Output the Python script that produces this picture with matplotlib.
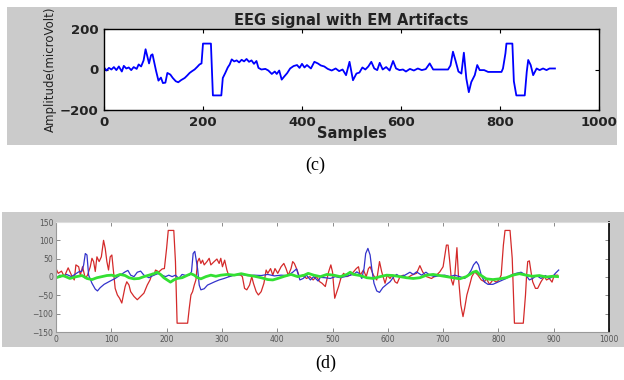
import matplotlib
matplotlib.use("Agg")
import matplotlib.pyplot as plt
from matplotlib.patches import Rectangle

# panel (c): EEG signal with EM artifacts (samples, microvolt)
eeg_x = [0, 5, 10, 15, 20, 25, 30, 36, 40, 45, 50, 55, 60, 66, 70, 75, 80, 84, 88, 91,
         95, 98, 102, 105, 110, 115, 119, 124, 128, 134, 139, 145, 150, 156, 163, 168, 173, 178, 183, 188,
         193, 197, 200, 216, 220, 237, 240, 245, 250, 254, 258, 263, 268, 273, 278, 283, 288, 293, 298, 303,
         308, 312, 318, 326, 332, 339, 345, 349, 354, 359, 364, 370, 376, 383, 390, 395, 400, 405, 410, 418,
         425, 432, 438, 445, 452, 460, 468, 475, 482, 489, 496, 503, 510, 516, 522, 528, 534, 540, 546, 552,
         557, 563, 570, 577, 584, 590, 597, 604, 610, 618, 626, 634, 642, 650, 658, 665, 695, 700, 705, 710,
         716, 722, 727, 732, 737, 742, 749, 754, 759, 768, 776, 803, 806, 811, 813, 825, 828, 833, 850, 854,
         857, 862, 867, 874, 880, 887, 894, 900, 911]
eeg_y = [10, -5, 8, 0, 12, -3, 15, -10, 18, 5, 10, -3, 12, 3, 25, 15, 45, 100, 60, 30,
         70, 75, 30, -5, -55, -40, -67, -65, -17, -25, -42, -58, -63, -52, -42, -30, -17, -8, 0, 12,
         25, 30, 128, 128, -128, -128, -42, -17, 10, 25, 50, 40, 45, 35, 48, 40, 52, 38, 45, 28,
         42, 8, 0, 3, -5, -22, -10, -22, -5, -50, -35, -18, 5, 17, 22, 8, 28, 10, 22, 5,
         38, 30, 20, 15, 3, -5, 5, -8, 0, -28, 38, -53, -20, -15, 10, 0, 15, 38, 5, -3,
         33, 0, 12, -5, 42, 5, -3, 0, -10, 3, -5, 5, -3, 2, 30, 0, 0, 20, 88, 45,
         -10, -20, 83, -45, -112, -62, -28, 22, -3, -3, -12, -12, 5, 80, 128, 128, -58, -128, -128, -12,
         47, 22, -28, 5, -3, 5, -3, 5, 5]

# panel (d): red = contaminated, blue = cleaned, green = artifact estimate
red_x = [0, 4, 10, 15, 22, 28, 33, 36, 41, 44, 48, 53, 57, 62, 65, 68, 71, 74, 78, 82,
         86, 89, 92, 95, 98, 101, 104, 107, 111, 115, 119, 122, 125, 128, 132, 135, 141, 147, 153, 159,
         165, 170, 174, 177, 180, 186, 192, 196, 200, 203, 213, 216, 219, 238, 241, 244, 247, 250, 253, 256,
         259, 262, 265, 268, 273, 277, 280, 286, 291, 295, 298, 301, 305, 309, 313, 319, 328, 334, 337, 341,
         345, 350, 354, 357, 362, 366, 371, 376, 380, 383, 388, 392, 396, 401, 407, 412, 416, 420, 425, 428,
         431, 436, 440, 446, 453, 459, 465, 471, 477, 481, 487, 493, 497, 500, 504, 508, 511, 515, 520, 526,
         532, 538, 543, 547, 550, 556, 561, 565, 568, 574, 580, 585, 589, 595, 599, 604, 608, 613, 617, 622,
         628, 634, 643, 652, 658, 663, 670, 679, 688, 694, 700, 706, 709, 712, 715, 718, 721, 725, 728, 732,
         736, 739, 743, 748, 752, 757, 763, 769, 775, 778, 784, 790, 796, 801, 805, 809, 812, 821, 825, 829,
         845, 849, 851, 853, 856, 859, 862, 867, 871, 877, 883, 887, 892, 897, 901, 907]
red_y = [23, 10, 16, 1, 25, 5, -8, 33, 28, 5, 28, -4, 5, 28, 51, 42, 15, 55, 42, 55,
         100, 78, 42, 19, 55, 60, 15, -31, -49, -58, -71, -49, -26, -13, -22, -40, -53, -62, -53, -44,
         -22, -8, 10, 5, 19, 14, 22, 23, 78, 127, 127, 42, -126, -126, -85, -49, -40, -22, -8, 42,
         51, 37, 46, 33, 42, 51, 33, 42, 49, 37, 51, 28, 46, 19, 1, 5, 7, 5, 1, -31,
         -35, -22, 1, -17, -40, -49, -40, -17, 19, 10, 23, 5, 23, 10, 28, 37, 23, 5, 23, 42,
         37, 19, 1, 5, -4, 1, -8, 1, -13, -17, -26, 14, 33, 14, -58, -40, -26, -4, 10, 1,
         5, 14, 23, 28, 5, 19, 1, 23, 28, 5, -8, 42, 14, -17, 5, -4, 5, -13, -17, 1,
         5, -4, 5, 10, 31, 14, 1, -4, 5, 14, 28, 87, 87, 42, -8, -22, 1, 80, -4, -76,
         -108, -85, -49, -22, 1, 14, 5, -8, -13, -4, -20, -8, -14, -8, 5, 87, 127, 127, 51, -126,
         -126, -49, 5, 42, 44, 14, -13, -31, -31, -13, 1, -8, -4, -14, 5, 5]

blue_x = [0, 7, 13, 19, 28, 34, 41, 47, 50, 53, 56, 59, 65, 71, 75, 80, 87, 98, 107, 116,
          125, 130, 135, 141, 147, 153, 159, 168, 177, 186, 192, 198, 204, 210, 216, 222, 228, 235, 241, 245,
          248, 251, 256, 259, 262, 268, 274, 281, 287, 295, 304, 313, 322, 335, 347, 359, 371, 383, 395, 407,
          419, 428, 435, 441, 447, 453, 460, 466, 474, 478, 487, 496, 505, 514, 523, 532, 538, 544, 548, 553,
          557, 560, 564, 568, 571, 575, 580, 585, 591, 598, 604, 611, 616, 622, 631, 640, 646, 652, 661, 669,
          676, 685, 694, 703, 712, 721, 730, 739, 745, 751, 755, 760, 764, 769, 775, 781, 790, 799, 808, 814,
          823, 832, 841, 850, 856, 862, 869, 877, 885, 892, 898, 903, 909]
blue_y = [-4, 5, 1, 7, 1, 7, 14, 16, 33, 64, 60, 5, -17, -33, -38, -29, -20, -11, -4, 5,
          14, 18, 5, 1, 13, 16, 5, -2, 5, 10, 5, 1, 5, 1, 5, -4, 7, 4, 5, 14,
          64, 70, 23, -22, -35, -32, -22, -17, -13, -8, -4, 1, 5, 7, 4, 5, 4, 7, 3, 5,
          4, 13, 22, -8, -4, 5, -8, 1, -11, -1, -2, -4, 1, -2, 1, 5, 7, 14, 10, -4,
          23, 64, 78, 60, 23, -17, -38, -42, -29, -20, -13, 1, 7, 1, 5, 13, 7, 14, 5, 13,
          5, 1, 4, 5, 1, 5, 1, -4, 5, 19, 33, 42, 33, 5, -14, -20, -20, -14, -8, -4,
          5, 10, 13, 5, -8, -4, 4, -4, 4, -4, 1, 10, 19]

green_x = [0, 13, 25, 37, 47, 56, 65, 74, 83, 92, 101, 107, 116, 125, 132, 141, 150, 159, 168, 177,
           183, 189, 195, 201, 207, 213, 219, 228, 238, 244, 250, 256, 262, 271, 280, 289, 298, 310, 322, 335,
           347, 359, 371, 383, 392, 401, 413, 425, 437, 449, 456, 466, 478, 490, 502, 514, 526, 532, 538, 550,
           562, 574, 586, 598, 610, 622, 634, 646, 658, 670, 682, 694, 706, 718, 730, 742, 754, 760, 766, 778,
           790, 802, 814, 826, 838, 850, 862, 874, 886, 898, 907]
green_y = [-2, 4, -4, 1, 4, -4, -7, -2, 1, 4, 5, 2, 7, 4, -2, -5, -4, 1, 5, 9,
           13, 7, -2, -8, -14, -8, -4, -2, 5, 9, 5, -2, -5, 1, 5, 2, 5, 7, 5, 9,
           5, 2, -2, -7, -8, -4, 2, 7, 1, 5, 10, 5, 1, 7, 5, 1, 7, 13, 7, 4,
           -2, -4, 1, 5, 4, 1, -2, -4, -2, 5, 7, 4, 1, -2, -5, 1, 13, 16, 7, -5,
           -7, -5, -2, 5, 9, 5, 2, 4, 0, 2, 1]

W, H = 624, 380
fig = plt.figure(figsize=(W / 100, H / 100), dpi=100)
fig.patch.set_facecolor("white")

def box(x0, y0, x1, y1):
    # pixel box (from top-left) -> figure fraction
    return [x0 / W, 1 - y1 / H, (x1 - x0) / W, (y1 - y0) / H]

# gray figure backgrounds behind both panels
bg_ax = fig.add_axes([0, 0, 1, 1], zorder=-5)
bg_ax.set_axis_off()
bg_ax.set_xlim(0, W)
bg_ax.set_ylim(H, 0)
bg = "#cbcbcb"
for x0, y0, x1, y1 in [(7, 7, 617, 145), (2, 212, 624, 347)]:
    bg_ax.add_patch(Rectangle((x0, y0), x1 - x0, y1 - y0, facecolor=bg, edgecolor="none"))

# ---- (c) ----
ax1 = fig.add_axes(box(104, 29, 599, 110))
ax1.plot(eeg_x, eeg_y, color="#0000ff", lw=1.3)
ax1.set_xlim(0, 1000)
ax1.set_ylim(-200, 200)
ax1.set_xticks([0, 200, 400, 600, 800, 1000])
ax1.set_yticks([-200, 0, 200])
ax1.tick_params(direction="in", top=True, right=True, length=3, width=0.8,
                labelsize=9.5, pad=4, colors="black")
for lab in ax1.get_xticklabels() + ax1.get_yticklabels():
    lab.set_fontweight("bold")
    lab.set_color("#222222")
for sp in ax1.spines.values():
    sp.set_linewidth(1.0)
ax1.set_title("EEG signal with EM Artifacts", fontsize=10.5, pad=3, color="#222222",
              fontweight="bold")
ax1.set_xlabel("Samples", fontsize=10.5, labelpad=-2, color="#222222", fontweight="bold")
ax1.set_ylabel("Amplitude(microVolt)", fontsize=8.5, labelpad=2, color="#222222")

fig.text(315 / W, 1 - 165 / H, "(c)", family="Liberation Serif", fontsize=13,
         ha="center", va="center")

# ---- (d) ----
ax2 = fig.add_axes(box(56, 222, 609, 332))
ax2.plot(red_x, red_y, color="#d42a2a", lw=0.9)
ax2.plot(blue_x, blue_y, color="#3333cc", lw=0.9)
ax2.plot(green_x, green_y, color="#33e033", lw=2.0)
ax2.set_xlim(0, 1000)
ax2.set_ylim(-150, 150)
ax2.set_xticks(range(0, 1001, 100))
ax2.set_yticks(range(-150, 151, 50))
ax2.tick_params(direction="in", top=True, right=True, length=3, width=0.6,
                labelsize=5.5, pad=2, labelcolor="#555555", color="#777777")
for name, sp in ax2.spines.items():
    sp.set_color("#999999")
    sp.set_linewidth(0.8)
ax2.spines["right"].set_color("black")
ax2.spines["right"].set_linewidth(1.2)
ax2.spines["top"].set_color("#dddddd")

fig.text(326 / W, 1 - 363 / H, "(d)", family="Liberation Serif", fontsize=13,
         ha="center", va="center")

fig.savefig("out.png", dpi=100)
